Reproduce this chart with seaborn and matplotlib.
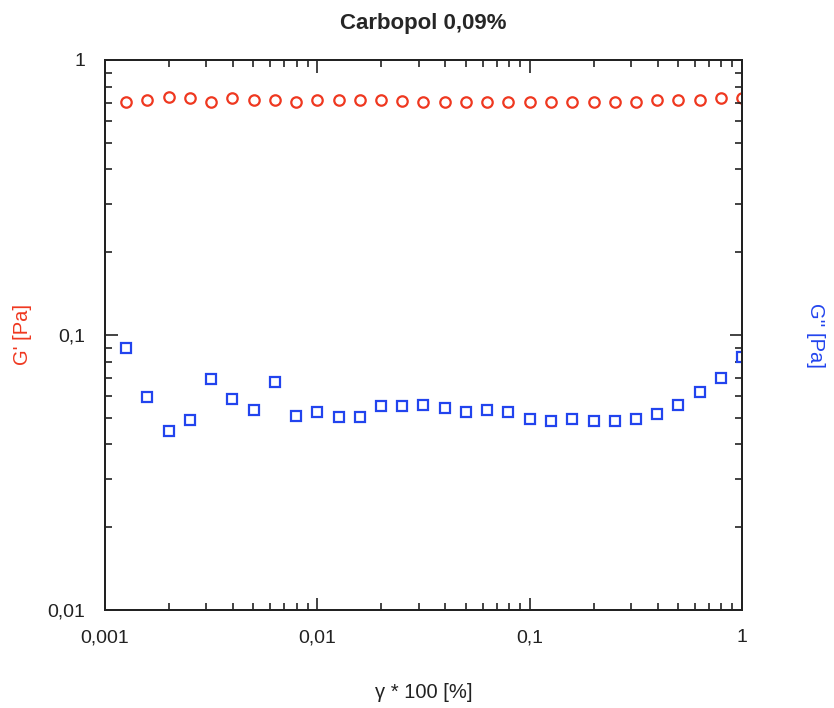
import matplotlib
matplotlib.use("Agg")
import matplotlib.pyplot as plt
import seaborn as sns

# strain amplitude (gamma * 100 [%])
strain = [0.00126, 0.00158, 0.002, 0.00251, 0.00316, 0.00398, 0.00501, 0.00631, 0.00794, 0.01,
          0.0126, 0.0158, 0.02, 0.0251, 0.0316, 0.0398, 0.0501, 0.0631, 0.0794, 0.1,
          0.126, 0.158, 0.2, 0.251, 0.316, 0.398, 0.501, 0.631, 0.794, 1.0]

# storage modulus G' [Pa]
g_storage = [0.705, 0.716, 0.735, 0.726, 0.705, 0.726, 0.716, 0.716, 0.705, 0.716,
             0.716, 0.716, 0.716, 0.71, 0.705, 0.705, 0.705, 0.705, 0.705, 0.705,
             0.705, 0.705, 0.705, 0.705, 0.705, 0.716, 0.716, 0.716, 0.726, 0.726]

# loss modulus G'' [Pa]
g_loss = [0.0899, 0.0594, 0.0448, 0.0491, 0.0690, 0.0584, 0.0534, 0.0676, 0.0509, 0.0526,
          0.0502, 0.0502, 0.0552, 0.0552, 0.0556, 0.0541, 0.0526, 0.0534, 0.0526, 0.0495,
          0.0488, 0.0495, 0.0488, 0.0488, 0.0495, 0.0516, 0.0556, 0.0619, 0.0696, 0.0834]

x_ticks = [0.001, 0.01, 0.1, 1]
x_labels = ["0,001", "0,01", "0,1", "1"]
y_ticks = [0.01, 0.1, 1]
y_labels = ["0,01", "0,1", "1"]

RED = "#ef3820"
BLUE = "#2244ee"
INK = "#222222"

sns.set_style("ticks")
plt.rcParams["font.family"] = ["Liberation Sans", "DejaVu Sans"]

fig = plt.figure(figsize=(8.34, 7.08), dpi=100)
ax = fig.add_axes([0.1259, 0.1384, 0.7638, 0.7769])

sns.lineplot(x=strain, y=g_storage, ax=ax, marker="o", linestyle="", markersize=7.5,
             markerfacecolor="none", markeredgecolor=RED, markeredgewidth=1.6)

ax2 = ax.twinx()
sns.lineplot(x=strain, y=g_loss, ax=ax2, marker="s", linestyle="", markersize=7.5,
             markerfacecolor="none", markeredgecolor=BLUE, markeredgewidth=1.6)

for a in (ax, ax2):
    a.set_xscale("log")
    a.set_yscale("log")
    a.set_xlim(0.001, 1)
    a.set_ylim(0.01, 1)
    for s in a.spines.values():
        s.set_visible(True)
        s.set_linewidth(1.4)
        s.set_color(INK)

ax.set_xticks(x_ticks)
ax.set_xticklabels(x_labels)
ax.set_yticks(y_ticks)
ax.set_yticklabels(y_labels)
ax.tick_params(which="both", direction="in", top=True, colors=INK, labelcolor=INK,
               labelsize=14, pad=14)
ax.tick_params(which="major", length=9, width=1.2)
ax.tick_params(which="minor", length=5, width=1.2)

ax2.set_yticks(y_ticks)
ax2.tick_params(which="both", direction="in", labelright=False, colors=INK)
ax2.tick_params(which="major", length=9, width=1.2)
ax2.tick_params(which="minor", length=5, width=1.2)

ax.set_xlabel("\u03b3 * 100 [%]", fontsize=14.5, labelpad=26, color=INK)
ax.set_ylabel("G' [Pa]", fontsize=14.5, color=RED, labelpad=11)
ax2.set_ylabel("G'' [Pa]", fontsize=14.5, color=BLUE, rotation=270, labelpad=60)
ax.set_title("Carbopol 0,09%", fontsize=16, fontweight="bold", pad=22)

fig.savefig("out.png", dpi=100)
